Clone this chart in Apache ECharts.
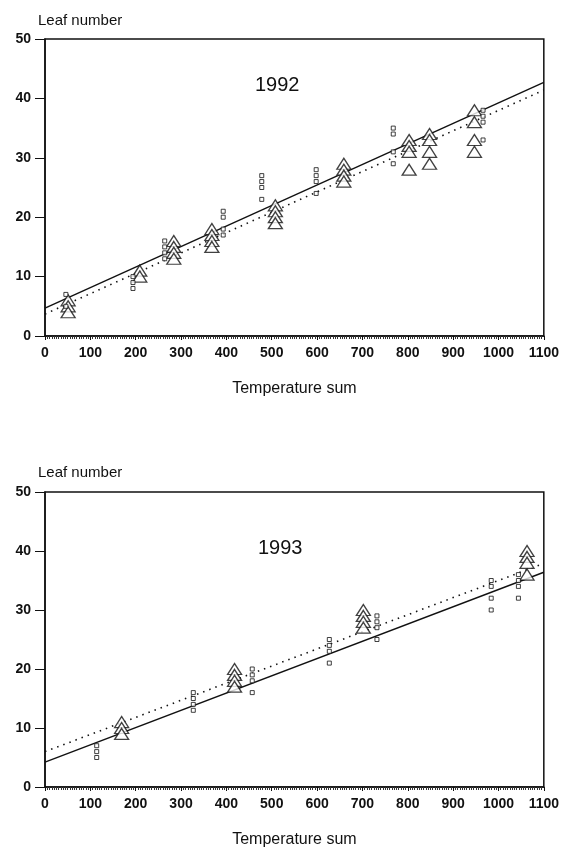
<!DOCTYPE html>
<html>
<head>
<meta charset="utf-8">
<script src="https://cdn.jsdelivr.net/npm/echarts@6/dist/echarts.min.js"></script>
<style>
  html, body { margin: 0; padding: 0; background: #fff; }
  #chart { width: 562px; height: 849px; }
</style>
</head>
<body>
<div id="chart"></div>
<script>
// 数据 1992
var tri92 = [
  [51, 6], [51, 5], [51, 4],
  [209, 11], [209, 10],
  [284, 16], [284, 15], [284, 14], [284, 13],
  [368, 18], [368, 17], [368, 16], [368, 15],
  [508, 22], [508, 21], [508, 20], [508, 19],
  [659, 29], [659, 28], [659, 27], [659, 26],
  [803, 33], [803, 32], [803, 31], [803, 28],
  [848, 34], [848, 33], [848, 31], [848, 29],
  [947, 38], [947, 36], [947, 33], [947, 31]
];
var sq92 = [
  [46, 7], [46, 5],
  [194, 10], [194, 9], [194, 8],
  [264, 16], [264, 15], [264, 14], [264, 13],
  [393, 21], [393, 20], [393, 18], [393, 17],
  [478, 27], [478, 26], [478, 25], [478, 23],
  [598, 28], [598, 27], [598, 26], [598, 24],
  [768, 35], [768, 34], [768, 31], [768, 29],
  [966, 38], [966, 37], [966, 36], [966, 33]
];
var solid92 = [[0, 4.7], [1100, 42.7]];
var dotted92 = [[0, 3.7], [1100, 41.4]];

// 数据 1993
var tri93 = [
  [169, 11], [169, 10], [169, 9],
  [418, 20], [418, 19], [418, 18], [418, 17],
  [702, 30], [702, 29], [702, 28], [702, 27],
  [1063, 40], [1063, 39], [1063, 38], [1063, 36]
];
var sq93 = [
  [114, 7], [114, 6], [114, 5],
  [327, 16], [327, 15], [327, 14], [327, 13],
  [457, 20], [457, 19], [457, 18], [457, 16],
  [627, 25], [627, 24], [627, 23], [627, 21],
  [732, 29], [732, 28], [732, 27], [732, 25],
  [984, 35], [984, 34], [984, 32], [984, 30],
  [1044, 36], [1044, 35], [1044, 34], [1044, 32]
];
var solid93 = [[0, 4.2], [1100, 36.4]];
var dotted93 = [[0, 6.0], [1100, 37.9]];

var xTicks = [0, 100, 200, 300, 400, 500, 600, 700, 800, 900, 1000, 1100];
var yTicks = [0, 10, 20, 30, 40, 50];

var font = 'Liberation Sans, Arial, sans-serif';
var ink = '#111';

function xAxis(gi) {
  return {
    gridIndex: gi, type: 'value', min: xTicks[0], max: xTicks[xTicks.length - 1], interval: 100,
    name: 'Temperature sum', nameLocation: 'middle', nameGap: 45,
    nameTextStyle: { fontFamily: font, fontSize: 16, color: ink },
    axisLine: { lineStyle: { color: ink, width: 1.5 } },
    axisTick: { show: true, inside: false, length: 4, lineStyle: { color: ink } },
    minorTick: { show: true, splitNumber: 20, length: 3, lineStyle: { color: '#333' } },
    axisLabel: { fontFamily: font, fontSize: 14, color: ink, margin: 10, fontWeight: 'bold',
      formatter: function (v) { return String(v); } },
    splitLine: { show: false }
  };
}
function yAxis(gi) {
  return {
    gridIndex: gi, type: 'value', min: yTicks[0], max: yTicks[yTicks.length - 1], interval: 10,
    axisLine: { lineStyle: { color: ink, width: 1.5 } },
    axisTick: { show: true, inside: false, length: 10, lineStyle: { color: ink } },
    axisLabel: { fontFamily: font, fontSize: 14, color: ink, margin: 14, fontWeight: 'bold' },
    splitLine: { show: false }
  };
}
function triSeries(data, i) {
  return { type: 'scatter', xAxisIndex: i, yAxisIndex: i, data: data, symbol: 'triangle',
    symbolSize: [14, 11], itemStyle: { color: '#fff', borderColor: ink, borderWidth: 1.3 }, z: 4 };
}
function sqSeries(data, i) {
  return { type: 'scatter', xAxisIndex: i, yAxisIndex: i, data: data, symbol: 'rect',
    symbolSize: 4, itemStyle: { color: '#fff', borderColor: ink, borderWidth: 1 }, z: 5 };
}
function lineSeries(data, i, dotted) {
  return { type: 'line', xAxisIndex: i, yAxisIndex: i, data: data, showSymbol: false,
    lineStyle: { color: ink, width: dotted ? 1.6 : 1.4, type: dotted ? [1.5, 5] : 'solid' }, z: 3 };
}

var myChart = echarts.init(document.getElementById('chart'));
var option = {
  backgroundColor: '#fff',
  animation: false,
  title: [
    { text: 'Leaf number', left: 33, top: 8, textStyle: { fontFamily: font, fontSize: 15, fontWeight: 'normal', color: ink } },
    { text: '1992', left: 250, top: 70, textStyle: { fontFamily: font, fontSize: 20, fontWeight: 'normal', color: ink } },
    { text: 'Leaf number', left: 33, top: 460, textStyle: { fontFamily: font, fontSize: 15, fontWeight: 'normal', color: ink } },
    { text: '1993', left: 253, top: 533, textStyle: { fontFamily: font, fontSize: 20, fontWeight: 'normal', color: ink } }
  ],
  grid: [
    { left: 45, top: 39, width: 500, height: 297, show: true, borderColor: ink, borderWidth: 1.5, backgroundColor: 'transparent' },
    { left: 45, top: 492, width: 500, height: 296, show: true, borderColor: ink, borderWidth: 1.5, backgroundColor: 'transparent' }
  ],
  xAxis: [xAxis(0), xAxis(1)],
  yAxis: [yAxis(0), yAxis(1)],
  series: [
    lineSeries(solid92, 0, false),
    lineSeries(dotted92, 0, true),
    triSeries(tri92, 0),
    sqSeries(sq92, 0),
    lineSeries(solid93, 1, false),
    lineSeries(dotted93, 1, true),
    triSeries(tri93, 1),
    sqSeries(sq93, 1)
  ]
};
myChart.setOption(option);
</script>
</body>
</html>
